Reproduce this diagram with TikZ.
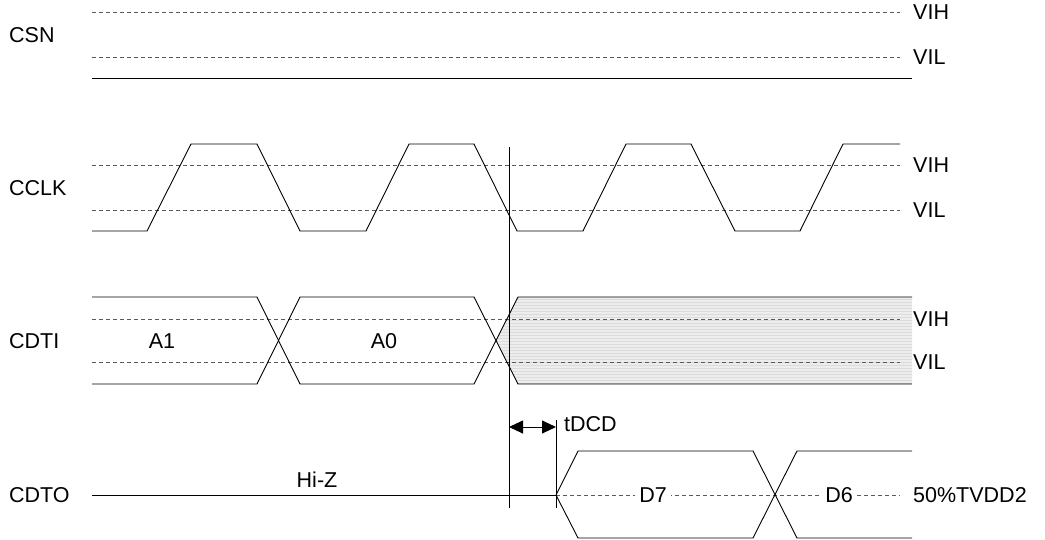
\documentclass[tikz,border=0pt]{standalone}
\usepackage{fontspec}
\setmainfont{Liberation Sans}
\usetikzlibrary{arrows.meta}
\begin{document}
\begin{tikzpicture}[x=1pt,y=-1pt,
  sig/.style={line width=0.9pt,line join=miter},
  lvl/.style={dashed,dash pattern=on 4pt off 3pt,line width=0.8pt,black!65},
  txt/.style={font=\fontsize{21.5}{25}\selectfont,inner sep=0pt},
  lbl/.style={txt,anchor=west},
  mid/.style={txt,fill=white,inner xsep=4pt,inner ysep=2pt}]
\useasboundingbox (0,0) rectangle (1045,539);
% ---------- CSN
\node[lbl] (csn) at (9,35) {CSN};
\draw[lvl] (92,12) -- (900,12);
\draw[lvl] (92,57) -- (900,57);
\node[lbl] (csnh) at (913,12) {VIH};
\node[lbl] (csnl) at (913,57) {VIL};
\draw[sig] (92,78) -- (912,78);
% ---------- CCLK
\node[lbl] (cclk) at (9,188) {CCLK};
\draw[lvl] (92,165) -- (900,165);
\draw[lvl] (92,210) -- (900,210);
\node[lbl] (clkh) at (913,165) {VIH};
\node[lbl] (clkl) at (913,210) {VIL};
\draw[sig] (92,231) -- (147,231) -- (191,144) -- (257,144) -- (300,231) -- (366,231)
  -- (409,144) -- (474,144) -- (517,231) -- (583,231) -- (626,144) -- (691,144)
  -- (735,231) -- (800,231) -- (843,144) -- (900,144);
% ---------- CDTI
\node[lbl] (cdti) at (9,341) {CDTI};
\fill[black!7] (496,340.5) -- (518,297) -- (912,297) -- (912,384) -- (518,384) -- cycle;
\begin{scope}
\clip (496,340.5) -- (518,297) -- (912,297) -- (912,384) -- (518,384) -- cycle;
\foreach \yy in {299,302,...,383} \draw[black!14,line width=0.6pt] (490,\yy) -- (912,\yy);
\end{scope}
\draw[lvl] (92,319) -- (900,319);
\draw[lvl] (92,362) -- (900,362);
\node[lbl] (dih) at (913,319) {VIH};
\node[lbl] (dil) at (913,362) {VIL};
\draw[sig] (92,297) -- (257,297) -- (300,384) -- (474,384) -- (518,297) -- (912,297);
\draw[sig] (92,384) -- (257,384) -- (300,297) -- (474,297) -- (518,384) -- (912,384);
\node[txt] (a1) at (162,341) {A1};
\node[txt] (a0) at (384,341) {A0};
% ---------- timing markers
\coordinate (v1t) at (509,147);
\coordinate (v1b) at (509,508);
\coordinate (v2t) at (556,420);
\coordinate (v2b) at (556,508);
\draw[sig] (v1t) -- (v1b);
\draw[sig] (v2t) -- (v2b);
\coordinate (ar1) at (509,427);
\coordinate (ar2) at (556,427);
\draw[sig,{Triangle[length=14pt,width=13pt]}-{Triangle[length=14pt,width=13pt]}] (ar1) -- (ar2);
\node[lbl] (tdcd) at (564,424) {tDCD};
% ---------- CDTO
\node[lbl] (cdto) at (9,495) {CDTO};
\node[txt] (hiz) at (317,480) {Hi-Z};
\draw[sig] (92,495) -- (556,495);
\draw[lvl] (556,495) -- (900,495);
\node[mid] (d7) at (653,495) {D7};
\node[mid] (d6) at (839,495) {D6};
\node[lbl] (tv) at (913,495) {50\%TVDD2};
\draw[sig] (556,495) -- (578,451) -- (753,451) -- (797,538) -- (912,538);
\draw[sig] (556,495) -- (578,538) -- (753,538) -- (797,451) -- (912,451);
\end{tikzpicture}
\end{document}
